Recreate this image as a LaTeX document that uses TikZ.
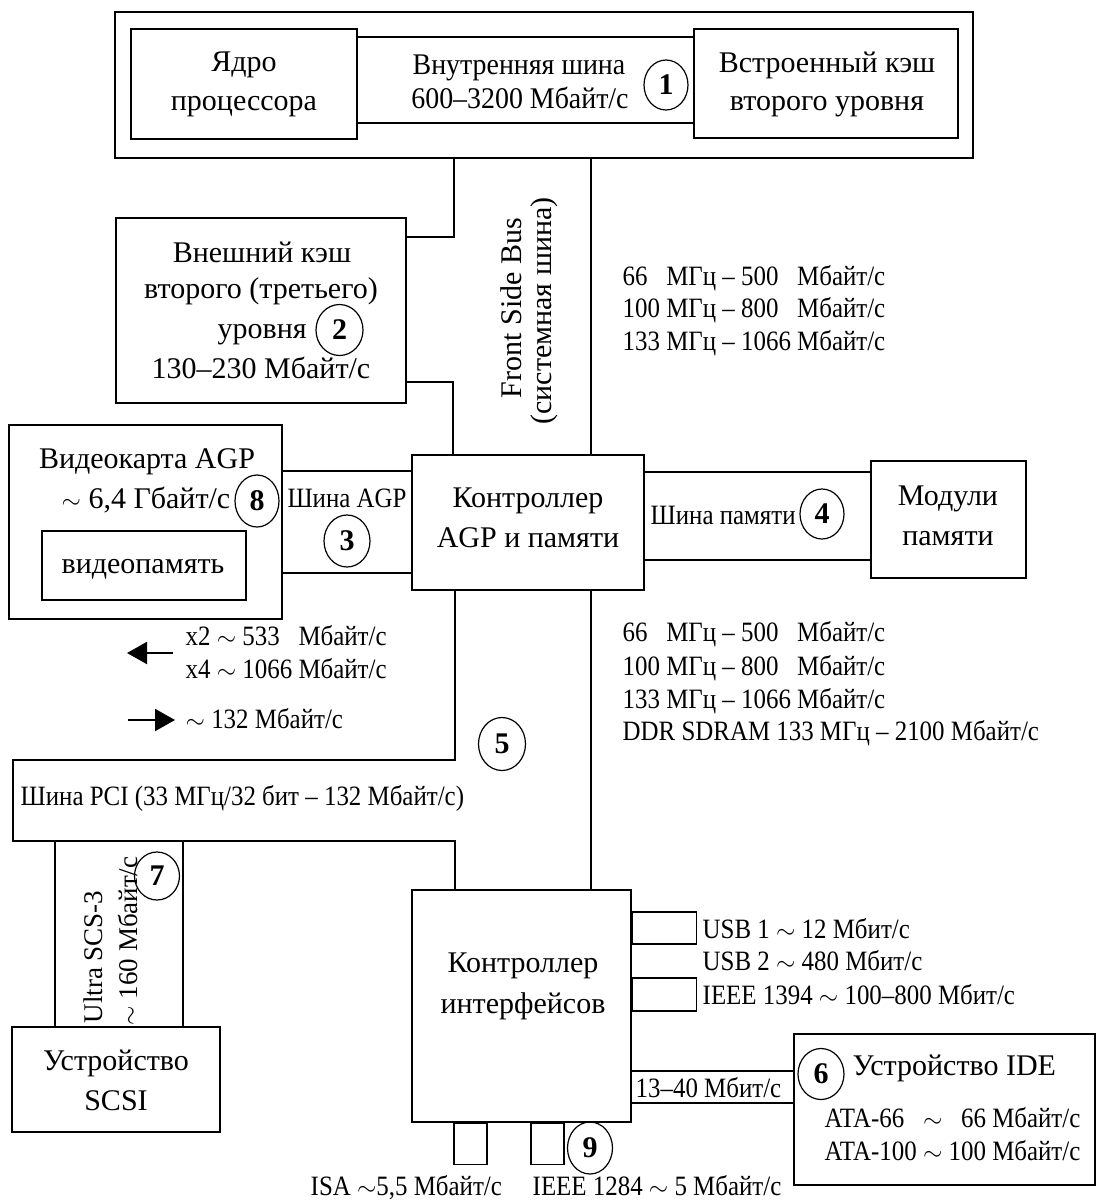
\documentclass[tikz,border=0pt]{standalone}
\usepackage{fontspec}
\setmainfont{Liberation Serif}
\newfontfamily\condfont[FakeStretch=0.89]{Liberation Serif}
\newfontfamily\condmain[FakeStretch=0.93]{Liberation Serif}
\usetikzlibrary{shapes.geometric,arrows.meta}
\newcommand\mainsz{\fontsize{30}{36}\selectfont}
\newcommand\smsz{\condfont\fontsize{28}{33}\selectfont}
\newcommand\cmsz{\condmain\fontsize{30}{36}\selectfont}
\newcommand\rotsz{\fontsize{27}{32}\selectfont}
\newcommand\tld{$\sim$}
\begin{document}
\begin{tikzpicture}[x=1pt,y=-1pt,
  line width=1.4pt,
  box/.style={draw, rectangle, inner sep=0pt},
  lbl/.style={inner sep=0pt, font=\mainsz, anchor=base},
  lbll/.style={inner sep=0pt, font=\mainsz, anchor=base west},
  sml/.style={inner sep=0pt, font=\smsz, anchor=base west},
  smc/.style={inner sep=0pt, font=\smsz, anchor=base},
  rotl/.style={inner sep=0pt, font=\rotsz, anchor=base west, rotate=90},
  num/.style={draw, ellipse, inner sep=0pt, line width=1.2pt, font=\mainsz\bfseries},
  arr/.style={line width=2pt, -{Triangle[length=20pt,width=22pt]}}
]
\useasboundingbox (0,0) rectangle (1107,1203);

% ---------- boxes ----------
\node[box, minimum width=858pt, minimum height=146pt] (cpu) at (544,85) {};
\node[box, minimum width=226pt, minimum height=110pt] (core) at (244,84) {};
\node[box, minimum width=264pt, minimum height=109pt] (l2) at (826,83.5) {};
\node[box, minimum width=290pt, minimum height=185pt] (extcache) at (261,310.5) {};
\node[box, minimum width=232pt, minimum height=135pt] (agpctl) at (528,522.5) {};
\node[box, minimum width=155pt, minimum height=117pt] (mem) at (948.5,519.5) {};
\node[box, minimum width=273pt, minimum height=194pt] (video) at (145.5,522) {};
\node[box, minimum width=204pt, minimum height=69pt] (vmem) at (144,565.5) {};
\node[box, minimum width=219pt, minimum height=232pt] (iface) at (521.5,1006) {};
\node[box, minimum width=208pt, minimum height=105pt] (scsi) at (116,1079.5) {};
\node[box, minimum width=301pt, minimum height=151pt] (ide) at (944.5,1109.5) {};
\node[box, minimum width=64pt, minimum height=32pt, anchor=west] (usb1) at (iface.east |- 0,928) {};
\node[box, minimum width=64pt, minimum height=33pt, anchor=west] (fw) at (iface.east |- 0,994.5) {};
\node[box, minimum width=33pt, minimum height=41pt, anchor=north] (isa) at (iface.south -| 470.5,0) {};
\node[box, minimum width=33pt, minimum height=41pt, anchor=north] (lpt) at (iface.south -| 547.5,0) {};

% ---------- buses ----------
\draw (core.east |- 0,37) -- (l2.west |- 0,37);
\draw (core.east |- 0,123) -- (l2.west |- 0,123);
\draw (cpu.south -| 454,0) |- (extcache.east |- 0,237);
\draw (extcache.east |- 0,382) -| (agpctl.north -| 453,0);
\draw (cpu.south -| 591,0) -- (agpctl.north -| 591,0);
\draw (video.east |- 0,471) -- (agpctl.west |- 0,471);
\draw (video.east |- 0,573) -- (agpctl.west |- 0,573);
\draw (agpctl.east |- 0,472) -- (mem.west |- 0,472);
\draw (agpctl.east |- 0,560) -- (mem.west |- 0,560);
\coordinate (pciTL) at (13,760);
\coordinate (pciBL) at (13,841);
\draw (agpctl.south -| 455,0) |- (pciTL) -- (pciBL) -| (iface.north -| 455,0);
\draw (agpctl.south -| 591,0) -- (iface.north -| 591,0);
\draw (pciBL -| 55,0) -- (scsi.north -| 55,0);
\draw (pciBL -| 183,0) -- (scsi.north -| 183,0);
\draw (iface.east |- 0,1071) -- (ide.west |- 0,1071);
\draw (iface.east |- 0,1103) -- (ide.west |- 0,1103);

% ---------- arrows ----------
\coordinate (a1s) at (173,653); \coordinate (a1e) at (127,653);
\draw[arr] (a1s) -- (a1e);
\coordinate (a2s) at (128,720); \coordinate (a2e) at (175,720);
\draw[arr] (a2s) -- (a2e);

% ---------- numbered circles ----------
\node[num, minimum width=44pt, minimum height=50pt] (n1) at (666,85) {1};
\node[num, minimum width=47pt, minimum height=51pt] (n2) at (339.5,330) {2};
\node[num, minimum width=46pt, minimum height=52pt] (n3) at (347,541) {3};
\node[num, minimum width=44pt, minimum height=50pt] (n4) at (822,514) {4};
\node[num, minimum width=47pt, minimum height=53pt] (n5) at (502,744) {5};
\node[num, minimum width=46pt, minimum height=51pt] (n6) at (821,1074) {6};
\node[num, minimum width=45pt, minimum height=48pt] (n7) at (157,876) {7};
\node[num, minimum width=44pt, minimum height=52pt] (n8) at (257,501) {8};
\node[num, minimum width=45pt, minimum height=52pt] (n9) at (590,1148) {9};

% ---------- labels ----------
\node[lbl] (t1a) at (244,71) {Ядро};
\node[lbl] (t1b) at (244,110) {процессора};
\node[lbl] (t2a) at (827,72) {Встроенный кэш};
\node[lbl] (t2b) at (827,110) {второго уровня};
\node[lbl, font=\cmsz] (t3a) at (519,74) {Внутренняя шина};
\node[lbl, font=\cmsz] (t3b) at (520,108) {600–3200 Мбайт/с};
\node[lbl] (t4a) at (262,262) {Внешний кэш};
\node[lbl] (t4b) at (261,298) {второго (третьего)};
\node[lbll] (t4c) at (217,338) {уровня};
\node[lbl] (t4d) at (261,378) {130–230 Мбайт/с};
\node[lbl, rotate=90] (fsb1) at (521,308) {Front Side Bus};
\node[lbl, rotate=90] (fsb2) at (551,311) {(системная шина)};
\node[sml] (f1) at (622,285) {66\hphantom{0} МГц – 500\hphantom{0} Мбайт/с};
\node[sml] (f2) at (622,317) {100 МГц – 800\hphantom{0} Мбайт/с};
\node[sml] (f3) at (622,350) {133 МГц – 1066 Мбайт/с};
\node[lbl] (t5a) at (528,507) {Контроллер};
\node[lbl] (t5b) at (528,547) {AGP и памяти};
\node[lbl] (t6a) at (147,468) {Видеокарта AGP};
\node[lbl, anchor=base east] (t6b) at (231,508) {\tld{} 6,4 Гбайт/с};
\node[lbl] (t6c) at (143,573) {видеопамять};
\node[smc] (t7) at (347,507) {Шина AGP};
\node[sml] (t8) at (650,524) {Шина памяти};
\node[lbl] (t9a) at (948,505) {Модули};
\node[lbl] (t9b) at (948,545) {памяти};
\node[sml] (g1) at (185,645) {x2 \tld{} 533\hphantom{0} Мбайт/с};
\node[sml] (g2) at (185,678) {x4 \tld{} 1066 Мбайт/с};
\node[sml] (g3) at (185,728) {\tld{} 132 Мбайт/с};
\node[sml] (m1) at (622,641) {66\hphantom{0} МГц – 500\hphantom{0} Мбайт/с};
\node[sml] (m2) at (622,675) {100 МГц – 800\hphantom{0} Мбайт/с};
\node[sml] (m3) at (622,708) {133 МГц – 1066 Мбайт/с};
\node[sml] (m4) at (622,740) {DDR SDRAM 133 МГц – 2100 Мбайт/с};
\node[sml] (pci) at (20,805) {Шина PCI (33 МГц/32 бит – 132 Мбайт/с)};
\node[lbl] (s1) at (116,1070) {Устройство};
\node[lbl] (s2) at (116,1110) {SCSI};
\node[rotl] (u1) at (102,1024) {Ultra SCS-3};
\node[rotl] (u2) at (137,1026) {\tld{} 160 Мбайт/с};
\node[lbl] (i1) at (523,972) {Контроллер};
\node[lbl] (i2) at (523,1013) {интерфейсов};
\node[sml] (p1) at (702,938) {USB 1 \tld{} 12 Мбит/с};
\node[sml] (p2) at (702,970) {USB 2 \tld{} 480 Мбит/с};
\node[sml] (p3) at (702,1004) {IEEE 1394 \tld{} 100–800 Мбит/с};
\node[sml] (p4) at (635,1097) {13–40 Мбит/с};
\node[lbll] (d1) at (852,1075) {Устройство IDE};
\node[sml] (d2) at (824,1127) {ATA-66\hphantom{0} \tld{} \hphantom{1}66 Мбайт/с};
\node[sml] (d3) at (824,1160) {ATA-100 \tld{} 100 Мбайт/с};
\node[sml] (q1) at (310,1195) {ISA \tld5,5 Мбайт/с};
\node[sml] (q2) at (532,1195) {IEEE 1284 \tld{} 5 Мбайт/с};
\end{tikzpicture}
\end{document}
